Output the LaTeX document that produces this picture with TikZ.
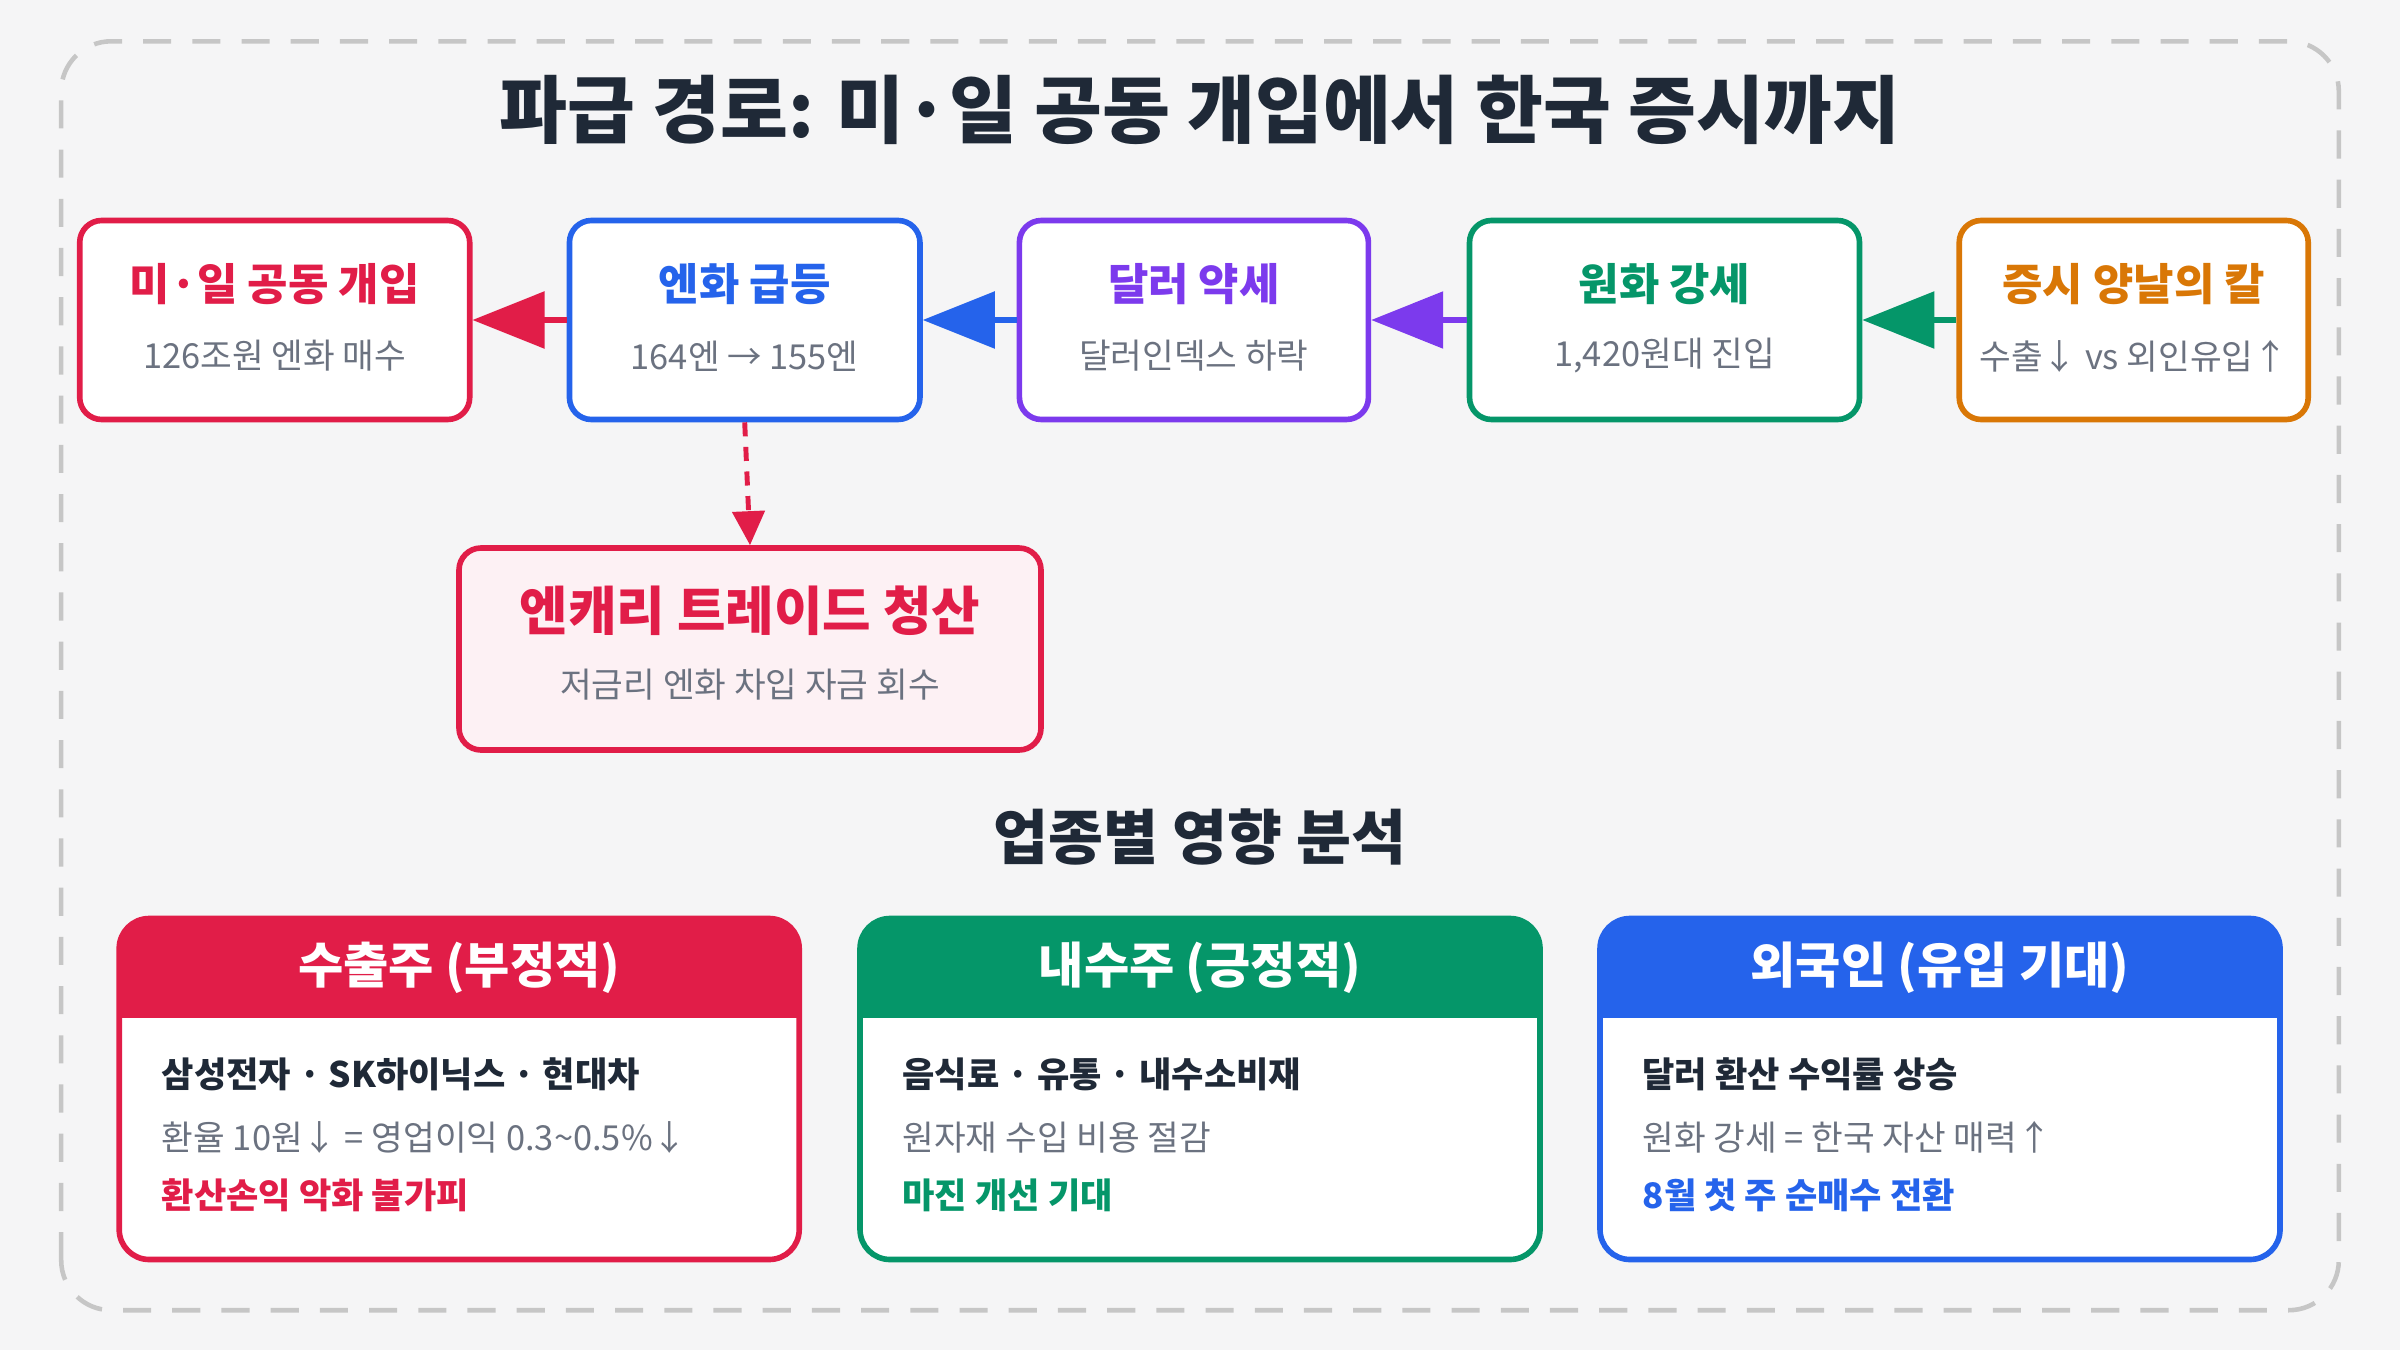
\documentclass[tikz,border=0pt]{standalone}
\usepackage{fontspec}
\setmainfont{Noto Sans CJK KR}
\usetikzlibrary{arrows.meta,positioning}
\definecolor{cred}{HTML}{E11D48}
\definecolor{cblue}{HTML}{2563EB}
\definecolor{cpurple}{HTML}{7C3AED}
\definecolor{cgreen}{HTML}{059669}
\definecolor{corange}{HTML}{D97706}
\definecolor{cdark}{HTML}{1F2937}
\definecolor{cgray}{HTML}{6B7280}
\definecolor{cbg}{HTML}{F5F5F6}
\tikzset{
  flow/.style={draw=#1, line width=1.6pt, fill=white, rounded corners=0.22cm, minimum height=1.99cm},
  ftitle/.style={text=#1, font=\fontsize{12.5}{14}\selectfont\bfseries},
  fsub/.style={text=cgray, font=\fontsize{9.8}{12}\selectfont},
  link/.style={draw=#1, fill=#1, line width=1.6pt, {Triangle[length=0.72cm,width=0.56cm]}-},
  card/.style={draw=#1, line width=1.6pt, rounded corners=0.3cm, minimum width=6.8cm, minimum height=3.41cm},
  cline/.style={anchor=west, font=\fontsize{#1}{12}\selectfont}
}
% box with title and subtitle
\newcommand{\flowbox}[6]{%
  \node[flow=#4, minimum width=#3] (#1) at #2 {};
  \node[ftitle=#4] (#1t) at ([yshift=0.36cm]#1.center) {#5};
  \node[fsub] (#1s) at ([yshift=-0.36cm]#1.center) {#6};
}
% impact card
\newcommand{\impactcard}[7]{%
  \begin{scope}
    \clip[rounded corners=0.3cm] ([xshift=-3.4cm]#2,0.903) rectangle ([xshift=3.4cm]#2,4.316);
    \fill[white] ([xshift=-3.4cm]#2,0.903) rectangle ([xshift=3.4cm]#2,4.316);
    \fill[#3] ([xshift=-3.4cm]#2,3.322) rectangle ([xshift=3.4cm]#2,4.316);
  \end{scope}
  \node[card=#3] (#1) at (#2,2.61) {};
  \node[text=white, font=\fontsize{14}{16}\selectfont\bfseries] (#1h) at (#2,3.82) {#4};
  \node[cline=10.8, text=cdark, font=\bfseries] (#1a) at ([xshift=0.33cm]#1.west |- 0,2.755) {#5};
  \node[cline=9.8, text=cgray] (#1b) at ([xshift=0.33cm]#1.west |- 0,2.128) {#6};
  \node[cline=10.8, text=#3, font=\bfseries] (#1c) at ([xshift=0.33cm]#1.west |- 0,1.546) {#7};
}

\begin{document}
\begin{tikzpicture}
  \useasboundingbox[fill=cbg] (0,0) rectangle (24,13.5);
  \draw[gray!45, line width=1.3pt, dash pattern=on 8pt off 6pt, rounded corners=0.5cm] (0.612,0.398) rectangle (23.388,13.087);

  % title
  \node[text=cdark, font=\fontsize{21}{24}\selectfont\bfseries] (title) at (12,12.4) {파급 경로: 미·일 공동 개입에서 한국 증시까지};

  % flow boxes
  \flowbox{jv}{(2.747,10.30)}{3.90cm}{cred}{미·일 공동 개입}{126조원 엔화 매수}
  \flowbox{yen}{(7.447,10.30)}{3.505cm}{cblue}{엔화 급등}{164엔 → 155엔}
  \flowbox{usd}{(11.939,10.30)}{3.49cm}{cpurple}{달러 약세}{달러인덱스 하락}
  \flowbox{krw}{(16.645,10.30)}{3.90cm}{cgreen}{원화 강세}{1,420원대 진입}
  \flowbox{mkt}{(21.337,10.30)}{3.49cm}{corange}{증시 양날의 칼}{수출↓ vs 외인유입↑}

  \node[draw=cred, line width=1.6pt, fill=cred!6, rounded corners=0.22cm, minimum width=5.82cm, minimum height=2.02cm] (carry) at (7.50,7.01) {};
  \node[text=cred, font=\fontsize{15}{17}\selectfont\bfseries] (carryt) at ([yshift=0.38cm]carry.center) {엔캐리 트레이드 청산};
  \node[fsub] (carrys) at ([yshift=-0.36cm]carry.center) {저금리 엔화 차입 자금 회수};

  % links
  \draw[link=cred] (jv.east) -- (yen.west);
  \draw[link=cblue] (yen.east) -- (usd.west);
  \draw[link=cpurple] (usd.east) -- (krw.west);
  \draw[link=cgreen] (krw.east) -- (mkt.west);
  \draw[cred, line width=1.4pt, dash pattern=on 4pt off 3pt, -{Triangle[length=0.34cm,width=0.32cm]}] (yen.south) -- (carry.north);

  % sector impact
  \node[text=cdark, font=\fontsize{17}{20}\selectfont\bfseries] (sect) at (12,5.13) {업종별 영향 분석};
  \impactcard{exp}{4.592}{cred}{수출주 (부정적)}{삼성전자 · SK하이닉스 · 현대차}{환율 10원↓ = 영업이익 0.3\textasciitilde0.5\%↓}{환산손익 악화 불가피}
  \impactcard{dom}{12.0}{cgreen}{내수주 (긍정적)}{음식료 · 유통 · 내수소비재}{원자재 수입 비용 절감}{마진 개선 기대}
  \impactcard{fgn}{19.40}{cblue}{외국인 (유입 기대)}{달러 환산 수익률 상승}{원화 강세 = 한국 자산 매력↑}{8월 첫 주 순매수 전환}
\end{tikzpicture}
\end{document}
